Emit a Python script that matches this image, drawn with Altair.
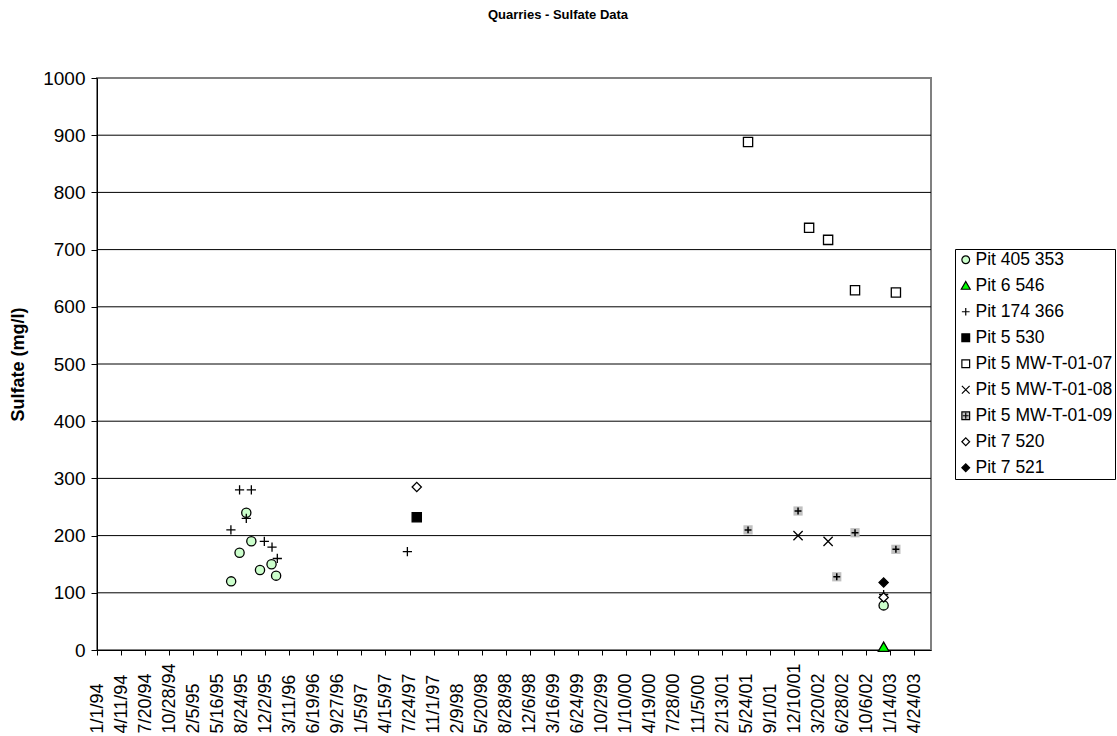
import altair as alt
import pandas as pd

# ---- measurements (sample date, sulfate mg/l) per sampling point ----
pit405_353_dates = ["1995-07-13", "1995-08-17", "1995-09-14", "1995-10-05",
                    "1995-11-10", "1995-12-28", "1996-01-16", "2002-12-17"]
pit405_353_vals = [120, 170, 240, 190, 140, 150, 130, 78]

pit6_546_dates = ["2002-12-17"]
pit6_546_vals = [5]

pit174_366_dates = ["1995-07-12", "1995-08-17", "1995-09-14", "1995-10-05",
                    "1995-11-28", "1995-12-30", "1996-01-21", "1997-07-15",
                    "2002-12-17"]
pit174_366_vals = [210, 280, 230, 280, 190, 180, 160, 172, 97]

pit5_530_dates = ["1997-08-23"]
pit5_530_vals = [232]

mw07_dates = ["2001-06-01", "2002-02-10", "2002-04-30", "2002-08-20", "2003-02-06"]
mw07_vals = [888, 738, 717, 629, 625]

mw08_dates = ["2001-12-26", "2002-04-30"]
mw08_vals = [200, 190]

mw09_dates = ["2001-06-01", "2001-12-26", "2002-06-05", "2002-08-20", "2003-02-06"]
mw09_vals = [210, 243, 128, 205, 176]

pit7_520_dates = ["1997-08-23", "2002-12-17"]
pit7_520_vals = [285, 92]

pit7_521_dates = ["2002-12-17"]
pit7_521_vals = [118]

series_names = ["Pit 405 353", "Pit 6 546", "Pit 174 366", "Pit 5 530",
                "Pit 5 MW-T-01-07", "Pit 5 MW-T-01-08", "Pit 5 MW-T-01-09",
                "Pit 7 520", "Pit 7 521"]

# date ticks (every 100 days) and value gridlines
x_tick_dates = ["1994-01-01", "1994-04-11", "1994-07-20", "1994-10-28", "1995-02-05",
                "1995-05-16", "1995-08-24", "1995-12-02", "1996-03-11", "1996-06-19",
                "1996-09-27", "1997-01-05", "1997-04-15", "1997-07-24", "1997-11-01",
                "1998-02-09", "1998-05-20", "1998-08-28", "1998-12-06", "1999-03-16",
                "1999-06-24", "1999-10-02", "2000-01-10", "2000-04-19", "2000-07-28",
                "2000-11-05", "2001-02-13", "2001-05-24", "2001-09-01", "2001-12-10",
                "2002-03-20", "2002-06-28", "2002-10-06", "2003-01-14", "2003-04-24"]
x_domain = ["1994-01-01", "2003-07-02"]
y_ticks = [0, 100, 200, 300, 400, 500, 600, 700, 800, 900, 1000]
grid_vals = [100, 200, 300, 400, 500, 600, 700, 800, 900]

# ---- marker styles ----
PLUS = "M-1,0L1,0M0,-1L0,1"
CROSS = "M-1,-1L1,1M-1,1L1,-1"
TRIANGLE = "M0,-1.1L1.15,0.9L-1.15,0.9Z"
BOX_PLUS = "M-1,-1L1,-1L1,1L-1,1ZM-0.75,0L0.75,0M0,-0.75L0,0.75"
shapes = ["circle", TRIANGLE, PLUS, "square", "square", CROSS, BOX_PLUS,
          "diamond", "diamond"]
fills = ["#CCFFCC", "#00FF00", "transparent", "#000000", "#FFFFFF", "transparent",
         "#C0C0C0", "#FFFFFF", "#000000"]
strokes = ["#000000"] * 9

all_dates = [pit405_353_dates, pit6_546_dates, pit174_366_dates, pit5_530_dates,
             mw07_dates, mw08_dates, mw09_dates, pit7_520_dates, pit7_521_dates]
all_vals = [pit405_353_vals, pit6_546_vals, pit174_366_vals, pit5_530_vals,
            mw07_vals, mw08_vals, mw09_vals, pit7_520_vals, pit7_521_vals]

rows = []
for name, ds, vs in zip(series_names, all_dates, all_vals):
    for d, v in zip(ds, vs):
        rows.append({"date": d, "value": v, "series": name,
                     "shown": 0 if name == "Pit 5 MW-T-01-09" else 1})
df = pd.DataFrame(rows)
df_mw09 = df[df["series"] == "Pit 5 MW-T-01-09"]
grid_df = pd.DataFrame({"g": grid_vals})


def ms(s):
    return int(pd.Timestamp(s).value // 10**6)


FONT = "Liberation Sans"

# date labels read upwards and share a common bottom edge
x_enc = alt.X(
    "date:T",
    scale=alt.Scale(type="utc", domain=[ms(x_domain[0]), ms(x_domain[1])]),
    axis=alt.Axis(values=[ms(d) for d in x_tick_dates],
                  labelExpr="utcFormat(datum.value, '%-m/%-d/%y')",
                  labelAngle=270, labelAlign="left", labelBaseline="middle",
                  labelFontSize=18, labelPadding=78, tickSize=5, grid=False,
                  title=None, labelOverlap=False, labelFlush=False),
)
y_axis = alt.Axis(values=y_ticks, format="d", grid=False, tickSize=6, labelPadding=6,
                  labelFontSize=19, title="Sulfate (mg/l)", titleFontSize=18,
                  titleFontWeight="bold", titlePadding=15)
y_scale = alt.Scale(domain=[0, 1000], nice=False)

gridlines = alt.Chart(grid_df).mark_rule(color="#000000", strokeWidth=1).encode(
    y=alt.Y("g:Q", scale=y_scale, axis=y_axis)
)

points = alt.Chart(df).mark_point(filled=True, size=85, strokeWidth=1.3).encode(
    x=x_enc,
    y=alt.Y("value:Q", scale=y_scale, axis=y_axis),
    shape=alt.Shape("series:N", scale=alt.Scale(domain=series_names, range=shapes),
                    legend=alt.Legend(title=None)),
    fill=alt.Fill("series:N", scale=alt.Scale(domain=series_names, range=fills),
                  legend=alt.Legend(title=None)),
    stroke=alt.Stroke("series:N", scale=alt.Scale(domain=series_names, range=strokes),
                      legend=alt.Legend(title=None)),
    opacity=alt.Opacity("shown:Q", scale=None, legend=None),
)

# grey box with black plus for MW-T-01-09
mw09_box = alt.Chart(df_mw09).mark_point(
    shape="square", filled=True, color="#C0C0C0", size=85, opacity=1, strokeWidth=0
).encode(x=x_enc, y=alt.Y("value:Q", scale=y_scale, axis=y_axis))
mw09_plus = alt.Chart(df_mw09).mark_point(
    shape="M-0.75,0L0.75,0M0,-0.75L0,0.75", filled=False, color="#000000", size=85,
    opacity=1, strokeWidth=1.5
).encode(x=x_enc, y=alt.Y("value:Q", scale=y_scale, axis=y_axis))

chart = alt.layer(gridlines, points, mw09_box, mw09_plus).properties(
    width=834, height=572,
    autosize=alt.AutoSizeParams(type="none"),
    padding={"left": 97, "top": 78, "right": 186, "bottom": 86},
    background="#FFFFFF",
    title=alt.TitleParams("Quarries - Sulfate Data", fontSize=13, fontWeight="bold",
                          font=FONT, anchor="middle", dx=44, offset=47,
                          color="#000000"),
).configure_view(
    stroke="#808080", strokeWidth=2
).configure_axis(
    labelFont=FONT, titleFont=FONT, labelColor="#000000", titleColor="#000000",
    domainColor="#000000", tickColor="#000000", domainWidth=1, tickWidth=1,
).configure_legend(
    orient="none", legendX=858, legendY=171, padding=2, strokeColor="#000000",
    fillColor="#FFFFFF", labelFont=FONT, labelFontSize=17.5, labelColor="#000000",
    labelLimit=0, rowPadding=7, symbolSize=60, symbolStrokeWidth=1.2,
    symbolOpacity=1, labelOffset=1, cornerRadius=0,
)

chart.save("out.html", embed_options={"renderer": "svg", "actions": False})
